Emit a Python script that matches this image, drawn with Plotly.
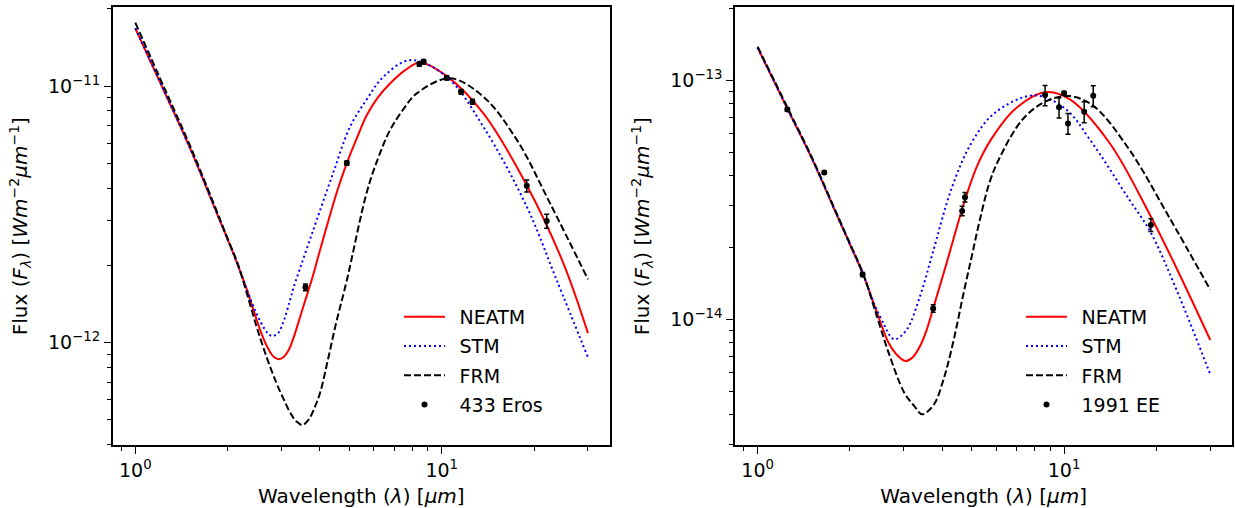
import plotly.graph_objects as go

# ---------------- 433 Eros (left panel) ----------------
eros_neatm_wl = [1.0, 1.25, 1.5, 1.8, 2.0, 2.15, 2.315, 2.49, 2.607, 2.73, 2.835, 2.94, 3.048, 3.16, 3.281, 3.409,
                 3.58, 3.771, 4.007, 4.30, 4.57, 4.90, 5.3, 5.69, 6.2, 6.78, 7.6, 8.5, 10.38, 13.67, 18.94, 24.94, 30.0]
eros_neatm_f = [1.68e-11, 9.4e-12, 5.82e-12, 3.44e-12, 2.53e-12, 2.04e-12, 1.604e-12, 1.226e-12, 1.052e-12, 9.36e-13,
                8.80e-13, 8.63e-13, 8.80e-13, 9.32e-13, 1.043e-12, 1.204e-12, 1.453e-12, 1.770e-12, 2.297e-12, 3.088e-12,
                3.935e-12, 5.01e-12, 6.33e-12, 7.7e-12, 9.06e-12, 1.024e-11, 1.154e-11, 1.236e-11, 1.094e-11, 7.83e-12,
                4.11e-12, 2.04e-12, 1.09e-12]

eros_stm_wl = [1.0, 1.25, 1.5, 1.8, 2.0, 2.15, 2.315, 2.49, 2.63, 2.711, 2.795, 2.923, 3.057, 3.198, 3.283, 3.447,
               3.661, 3.906, 4.4, 5.02, 5.7, 6.45, 7.88, 10.38, 13.67, 18.94, 23.73, 30.0]
eros_stm_f = [1.68e-11, 9.4e-12, 5.82e-12, 3.44e-12, 2.53e-12, 2.04e-12, 1.604e-12, 1.294e-12, 1.141e-12, 1.086e-12,
              1.061e-12, 1.090e-12, 1.226e-12, 1.466e-12, 1.639e-12, 1.946e-12, 2.402e-12, 3.0e-12, 4.51e-12, 6.94e-12,
              8.9e-12, 1.087e-11, 1.262e-11, 1.087e-11, 6.94e-12, 3.39e-12, 1.75e-12, 8.77e-13]

eros_frm_wl = [1.0, 1.25, 1.5, 1.8, 2.0, 2.15, 2.315, 2.49, 2.681, 2.89, 3.057, 3.21, 3.358, 3.51, 3.672, 3.842, 4.007,
               4.256, 4.519, 4.90, 5.69, 6.2, 6.78, 7.5, 8.29, 10.64, 13.67, 17.58, 22.57, 30.0]
eros_frm_f = [1.766e-11, 9.7e-12, 5.95e-12, 3.5e-12, 2.55e-12, 2.06e-12, 1.549e-12, 1.15e-12, 8.80e-13, 6.95e-13,
              5.98e-13, 5.31e-13, 4.93e-13, 4.78e-13, 5.00e-13, 5.57e-13, 6.37e-13, 8.64e-13, 1.19e-12, 1.75e-12,
              3.85e-12, 5.24e-12, 6.74e-12, 8.13e-12, 9.37e-12, 1.072e-11, 9.09e-12, 6.17e-12, 3.49e-12, 1.766e-12]

eros_obs_wl = [3.59, 4.90, 8.45, 8.73, 10.38, 11.56, 12.59, 18.94, 22.0]
eros_obs_f = [1.644e-12, 5.01e-12, 1.219e-11, 1.244e-11, 1.077e-11, 9.5e-12, 8.69e-12, 4.09e-12, 2.98e-12]
eros_obs_err = [5e-14, 1e-13, 2.5e-13, 2.5e-13, 2e-13, 2e-13, 2e-13, 2.2e-13, 1.85e-13]

# ---------------- 1991 EE (right panel) ----------------
ee_neatm_wl = [1.0, 1.25, 1.5, 1.8, 2.0, 2.21, 2.471, 2.675, 2.829, 3.03, 3.2, 3.39, 3.56, 3.74, 4.17, 4.71, 5.2,
               5.78, 6.90, 8.75, 10.45, 14.06, 18.91, 23.27, 30.0]
ee_neatm_f = [1.365e-13, 7.6e-14, 4.73e-14, 2.79e-14, 2.06e-14, 1.54e-14, 1.038e-14, 7.98e-15, 7.17e-15, 6.7e-15,
              6.92e-15, 7.74e-15, 9.02e-15, 1.11e-14, 1.78e-14, 3.05e-14, 4.37e-14, 5.65e-14, 7.54e-14, 8.91e-14,
              8.3e-14, 5.47e-14, 2.79e-14, 1.64e-14, 8.2e-15]

ee_stm_wl = [1.0, 1.25, 1.5, 1.8, 2.0, 2.21, 2.40, 2.60, 2.70, 2.80, 3.06, 3.39, 3.71, 4.30, 4.99, 5.95, 8.0, 10.15,
             12.13, 16.31, 19.2, 23.27, 30.0]
ee_stm_f = [1.365e-13, 7.6e-14, 4.73e-14, 2.79e-14, 2.06e-14, 1.54e-14, 1.159e-14, 9.38e-15, 8.56e-15, 8.24e-15,
            9.02e-15, 1.251e-14, 1.857e-14, 3.54e-14, 5.47e-14, 7.3e-14, 8.63e-14, 7.54e-14, 5.65e-14, 3.17e-14,
            2.30e-14, 1.33e-14, 5.89e-15]

ee_frm_wl = [1.0, 1.25, 1.5, 1.8, 2.0, 2.21, 2.45, 2.675, 3.01, 3.25, 3.44, 3.63, 3.82, 4.0, 4.17, 4.40, 4.70, 5.0,
             5.29, 5.7, 6.13, 7.33, 8.75, 10.45, 12.49, 16.31, 21.93, 30.0]
ee_frm_f = [1.38e-13, 7.7e-14, 4.78e-14, 2.82e-14, 2.08e-14, 1.55e-14, 1.032e-14, 7.26e-15, 4.94e-15, 4.33e-15,
            4.01e-15, 4.18e-15, 4.56e-15, 5.37e-15, 6.45e-15, 8.6e-15, 1.288e-14, 1.838e-14, 2.55e-14, 3.70e-14,
            4.67e-14, 6.86e-14, 8.17e-14, 8.57e-14, 7.78e-14, 5.13e-14, 2.70e-14, 1.33e-14]

ee_obs_wl = [1.25, 1.65, 2.2, 3.74, 4.65, 4.75, 8.67, 9.63, 10.0, 10.3, 11.63, 12.45, 19.2]
ee_obs_f = [7.54e-14, 4.11e-14, 1.54e-14, 1.11e-14, 2.84e-14, 3.24e-14, 8.65e-14, 7.69e-14, 8.80e-14, 6.59e-14,
            7.37e-14, 8.60e-14, 2.48e-14]
ee_obs_err = [1.2e-15, 6e-16, 3e-16, 4e-16, 1.3e-15, 1.5e-15, 8.4e-15, 7.5e-15, 1.5e-15, 6.6e-15, 7.4e-15, 8.6e-15, 1.5e-15]

# tick labels
x_major = [1, 10]
x_major_text = ["10<sup>0</sup>", "10<sup>1</sup>"]
x_minor = [0.9, 2, 3, 4, 5, 6, 7, 8, 9, 20, 30]
yl_major = [1e-12, 1e-11]
yl_major_text = ["10<sup>−12</sup>", "10<sup>−11</sup>"]
yl_minor = [4e-13, 5e-13, 6e-13, 7e-13, 8e-13, 9e-13, 2e-12, 3e-12, 4e-12, 5e-12, 6e-12, 7e-12, 8e-12, 9e-12, 2e-11]
yr_major = [1e-14, 1e-13]
yr_major_text = ["10<sup>−14</sup>", "10<sup>−13</sup>"]
yr_minor = [3e-15, 4e-15, 5e-15, 6e-15, 7e-15, 8e-15, 9e-15, 2e-14, 3e-14, 4e-14, 5e-14, 6e-14, 7e-14, 8e-14, 9e-14, 2e-13]

FONT = "DejaVu Sans"
W, H = 1235, 508
SP = "\u2002"

fig = go.Figure()


def add_panel(xa, ya, leg, wl_n, f_n, wl_s, f_s, wl_f, f_f, wl_o, f_o, e_o, name):
    fig.add_trace(go.Scatter(x=wl_n, y=f_n, mode="lines", name=SP + "NEATM", xaxis=xa, yaxis=ya, legend=leg,
                             legendgroup=leg + "a",
                             line=dict(color="#ff0000", width=2, shape="spline", smoothing=1.0)))
    fig.add_trace(go.Scatter(x=wl_s, y=f_s, mode="lines", name=SP + "STM", xaxis=xa, yaxis=ya, legend=leg,
                             legendgroup=leg + "b",
                             line=dict(color="#0000ff", width=2, dash="2px,3px", shape="spline", smoothing=1.0)))
    fig.add_trace(go.Scatter(x=wl_f, y=f_f, mode="lines", name=SP + "FRM", xaxis=xa, yaxis=ya, legend=leg,
                             legendgroup=leg + "c",
                             line=dict(color="#000000", width=2, dash="7px,3px", shape="spline", smoothing=1.0)))
    fig.add_trace(go.Scatter(x=wl_o, y=f_o, mode="markers", name=SP + name, xaxis=xa, yaxis=ya, legend=leg,
                             legendgroup=leg + "d",
                             marker=dict(color="#000000", size=6),
                             error_y=dict(type="data", array=e_o, visible=True, color="#000000",
                                          thickness=1.5, width=2.5)))


add_panel("x", "y", "legend", eros_neatm_wl, eros_neatm_f, eros_stm_wl, eros_stm_f, eros_frm_wl, eros_frm_f,
          eros_obs_wl, eros_obs_f, eros_obs_err, "433 Eros")
add_panel("x2", "y2", "legend2", ee_neatm_wl, ee_neatm_f, ee_stm_wl, ee_stm_f, ee_frm_wl, ee_frm_f,
          ee_obs_wl, ee_obs_f, ee_obs_err, "1991 EE")

x_title = "Wavelength (<i>λ</i>) [<i>μm</i>]"
y_title = "Flux (<i>F</i><sub><i>λ</i></sub>) [<i>Wm</i><sup>−2</sup><i>μm</i><sup>−1</sup>]"

common_x = dict(type="log", range=[-0.0738, 1.549], tickmode="array", tickvals=x_major, ticktext=x_major_text,
                ticks="outside", ticklen=7, tickwidth=1.3, tickcolor="black", automargin=False,
                minor=dict(tickmode="array", tickvals=x_minor, ticks="outside", ticklen=4, tickwidth=1,
                           tickcolor="black", showgrid=False),
                showline=True, linecolor="black", linewidth=1.5, mirror=True, showgrid=False, zeroline=False,
                tickfont=dict(family=FONT, size=19, color="black"),
                title=dict(text=x_title, font=dict(family=FONT, size=20, color="black")))


def yax(rng, major, text, minor):
    return dict(type="log", range=rng, tickmode="array", tickvals=major, ticktext=text,
                ticks="outside", ticklen=7, tickwidth=1.3, tickcolor="black", automargin=False,
                minor=dict(tickmode="array", tickvals=minor, ticks="outside", ticklen=4, tickwidth=1,
                           tickcolor="black", showgrid=False),
                showline=True, linecolor="black", linewidth=1.5, mirror=True, showgrid=False, zeroline=False,
                tickfont=dict(family=FONT, size=19, color="black"),
                title=dict(text=y_title, font=dict(family=FONT, size=20, color="black")))


ydom = [1 - 445 / H, 1 - 7.3 / H]
leg_common = dict(xanchor="left", yanchor="top", bgcolor="rgba(0,0,0,0)", tracegroupgap=1.5,
                  font=dict(family=FONT, size=19, color="black"), itemwidth=41)
fig.update_layout(
    width=W, height=H,
    margin=dict(l=0, r=0, t=0, b=0),
    paper_bgcolor="white", plot_bgcolor="white",
    font=dict(family=FONT, color="black"),
    xaxis=dict(common_x, domain=[112.7 / W, 610 / W], anchor="y"),
    yaxis=dict(yax([-12.3985, -10.693], yl_major, yl_major_text, yl_minor), domain=ydom, anchor="x"),
    xaxis2=dict(common_x, domain=[735 / W, 1232.3 / W], anchor="y2"),
    yaxis2=dict(yax([-14.525, -12.696], yr_major, yr_major_text, yr_minor), domain=ydom, anchor="x2"),
    legend=dict(leg_common, x=399 / W, y=1 - 298 / H),
    legend2=dict(leg_common, x=1021 / W, y=1 - 298 / H),
    showlegend=True,
)

fig.write_html("out.html", config={"displayModeBar": False},
               post_script="document.body.style.margin='0';document.body.style.overflow='hidden';")
